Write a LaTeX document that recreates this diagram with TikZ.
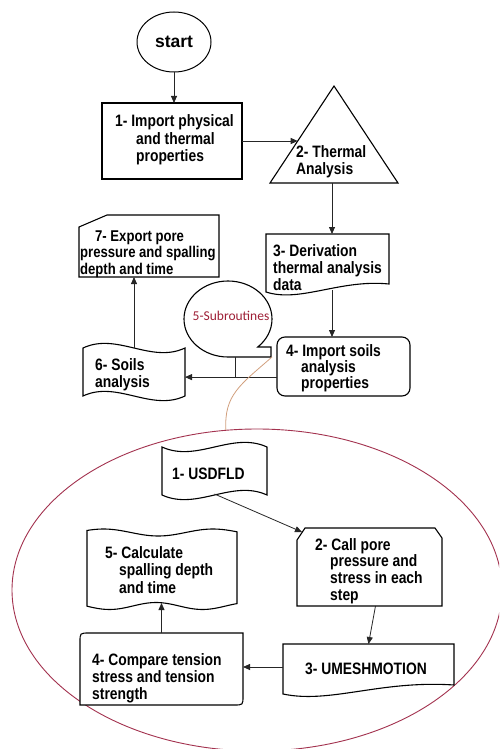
\documentclass[tikz,border=0pt]{standalone}
\usepackage{fontspec}
\setmainfont{Liberation Sans}[FakeStretch=0.84]
\newfontfamily\plainsans{Liberation Sans}
\newfontfamily\calfont{Carlito}
\usetikzlibrary{arrows.meta,calc,shapes.geometric}
\definecolor{ellcol}{HTML}{A3324F}
\definecolor{tancol}{HTML}{D2A07E}
\definecolor{subred}{HTML}{9E1F36}
\tikzset{
  box/.style={draw=black, line width=1.1pt, fill=white},
  arr/.style={draw=black!85, line width=0.8pt, -{Triangle[length=7pt,width=6pt]}},
  conn/.style={draw=black!85, line width=0.8pt},
  geo/.style={inner sep=0pt, outer sep=0pt, anchor=north west},
  txt/.style={anchor=base west, inner sep=0pt, align=left, font=\fontsize{16.5}{#1}\selectfont\bfseries},
  txt/.default=17.3
}
\begin{document}
\begin{tikzpicture}[x=1pt,y=-1pt]
\useasboundingbox (0,0) rectangle (499,749);
\clip (0,0) rectangle (499,749);
\fill[white] (0,0) rectangle (499,749);

% big subroutine ellipse
\node[ellipse, draw=ellcol, line width=0.9pt, minimum width=490pt, minimum height=322pt, inner sep=0pt] (sub) at (257,590) {};

% start
\node[ellipse, draw, line width=1pt, fill=white, minimum width=74pt, minimum height=60pt, inner sep=0pt, font=\plainsans\bfseries\fontsize{17.5}{18}\selectfont] (start) at (174,42) {start};

% 1 import (text anchors are at the baseline of the last line)
\node[geo, box, minimum width=140pt, minimum height=76pt] (b1) at (102,103) {};
\node[txt] (t1) at (115,161.6) {1- Import physical\\\hspace*{21pt}and thermal\\\hspace*{21pt}properties};

% 2 triangle
\draw[box] (334,86) -- (398,183) -- (270,183) -- cycle;
\coordinate (triL) at (297.7,141);
\coordinate (triB) at (332,183);
\node[txt] (t2) at (296,174.3) {2- Thermal\\Analysis};

% 3 derivation (document)
\draw[box] (266,234) -- (389,234) -- (389,284) .. controls (340,279) and (300,303) .. (266,292) -- cycle;
\node[geo, minimum width=123pt, minimum height=56pt] (b3) at (266,234) {};
\node[txt=17] (t3) at (273,290) {3- Derivation\\thermal analysis\\data};

% 4 import soils
\node[geo, box, rounded corners=8pt, minimum width=133pt, minimum height=59pt] (b4) at (277,337) {};
\node[txt=16] (t4) at (286,388) {4- Import soils\\\hspace*{15pt}analysis\\\hspace*{15pt}properties};

% 6 soils analysis (tape)
\draw[box] (83,348) .. controls (117,332) and (151,364) .. (185,348) -- (185,396) .. controls (151,412) and (117,380) .. (83,396) -- cycle;
\node[geo, minimum width=102pt, minimum height=48pt] (b6) at (83,348) {};
\node[txt=17] (t6) at (95,387) {6- Soils\\analysis};

% 7 export (card)
\draw[box] (79,227) -- (107,215) -- (219,215) -- (219,277) -- (79,277) -- cycle;
\node[geo, minimum width=140pt, minimum height=62pt] (b7) at (79,215) {};
\node[txt, font=\fontsize{15.6}{16.5}\selectfont\bfseries] (t7) at (80,274) {\hspace*{15pt}7- Export pore\\pressure and spalling\\depth and time};

% 5 subroutines balloon
\draw[box] (271,357) -- (228,357) arc[start angle=90, end angle=407.5, x radius=44, y radius=38] -- (271,347) -- cycle;
\node[geo, minimum width=88pt, minimum height=76pt] (bal) at (184,281) {};
\node[anchor=base, inner sep=0pt, font=\calfont\fontsize{13.5}{15}\selectfont, text=subred] (t5) at (231,320) {5-Subroutines};

% connectors (upper)
\draw[arr] (start.south) -- (start.south |- b1.north);
\draw[arr] (b1.east) -- (b1.east -| triL);
\draw[arr] (triB) -- (triB |- b3.north);
\draw[arr] (triB |- b3.south) -- (triB |- b4.north);
\coordinate (p4) at ($(b4.north west)!0.68!(b4.south west)$);
\draw[arr] (p4) -- (p4 -| b6.east);
\coordinate (balS) at ($(bal.south)+(7,0)$);
\draw[conn] (balS) -- (balS |- p4);
\draw[arr] (b6.north) -- (b6.north |- b7.south);
\draw[tancol, line width=0.8pt] (bal.south east) .. controls (240,385) and (224,395) .. (sub.101);

% inner 1 USDFLD (tape)
\draw[box] (162,447) .. controls (197,463) and (232,431) .. (267,447) -- (267,495) .. controls (232,479) and (197,511) .. (162,495) -- cycle;
\node[geo, minimum width=105pt, minimum height=47pt] (u1) at (162,447) {};
\node[txt] (tu1) at (172,479.5) {1- USDFLD};

% inner 2 call pore pressure
\draw[box] (297,540) -- (305,528) -- (435,528) -- (442,538) -- (442,606) -- (297,606) -- cycle;
\node[geo, minimum width=145pt, minimum height=78pt] (u2) at (297,528) {};
\node[txt=16.8] (tu2) at (315,600.4) {2- Call pore\\\hspace*{15pt}pressure and\\\hspace*{15pt}stress in each\\\hspace*{15pt}step};

% inner 3 UMESHMOTION
\draw[box] (283,644) -- (454,644) -- (454,685) .. controls (380,680) and (330,704) .. (283,694) -- cycle;
\node[geo, minimum width=171pt, minimum height=46pt] (u3) at (283,644) {};
\node[txt, anchor=base] (tu3) at (366,674.5) {3- UMESHMOTION};

% inner 4 compare
\draw[box] (80,705) -- (80,642) .. controls (80,633) .. (89,633) -- (243,633) -- (243,696) .. controls (243,705) .. (234,705) -- cycle;
\node[geo, minimum width=163pt, minimum height=72pt] (u4) at (80,633) {};
\node[txt=17] (tu4) at (92,699.5) {4- Compare tension\\stress and tension\\strength};

% inner 5 calculate (tape)
\draw[box] plot[domain=0:1, samples=41, variable=\t] ({87+150*\t},{532.5-3.5*cos(493.15*(\t-0.11))}) -- plot[domain=1:0, samples=41, variable=\t] ({87+150*\t},{606-3.5*cos(580.6*(\t-0.46))}) -- cycle;
\node[geo, minimum width=150pt, minimum height=71pt] (u5) at (87,532) {};
\node[txt] (tu5) at (105,593.1) {5- Calculate\\\hspace*{14pt}spalling depth\\\hspace*{14pt}and time};

% connectors (inner)
\draw[arr] (u1.south) -- ($(u2.north west)+(5,4)$);
\draw[arr] ($(u2.south)+(6,0)$) -- (u3.north);
\draw[arr] (u3.west) -- (u3.west -| u4.east);
\draw[arr] (u4.north) -- (u4.north |- u5.south);
\end{tikzpicture}
\end{document}
